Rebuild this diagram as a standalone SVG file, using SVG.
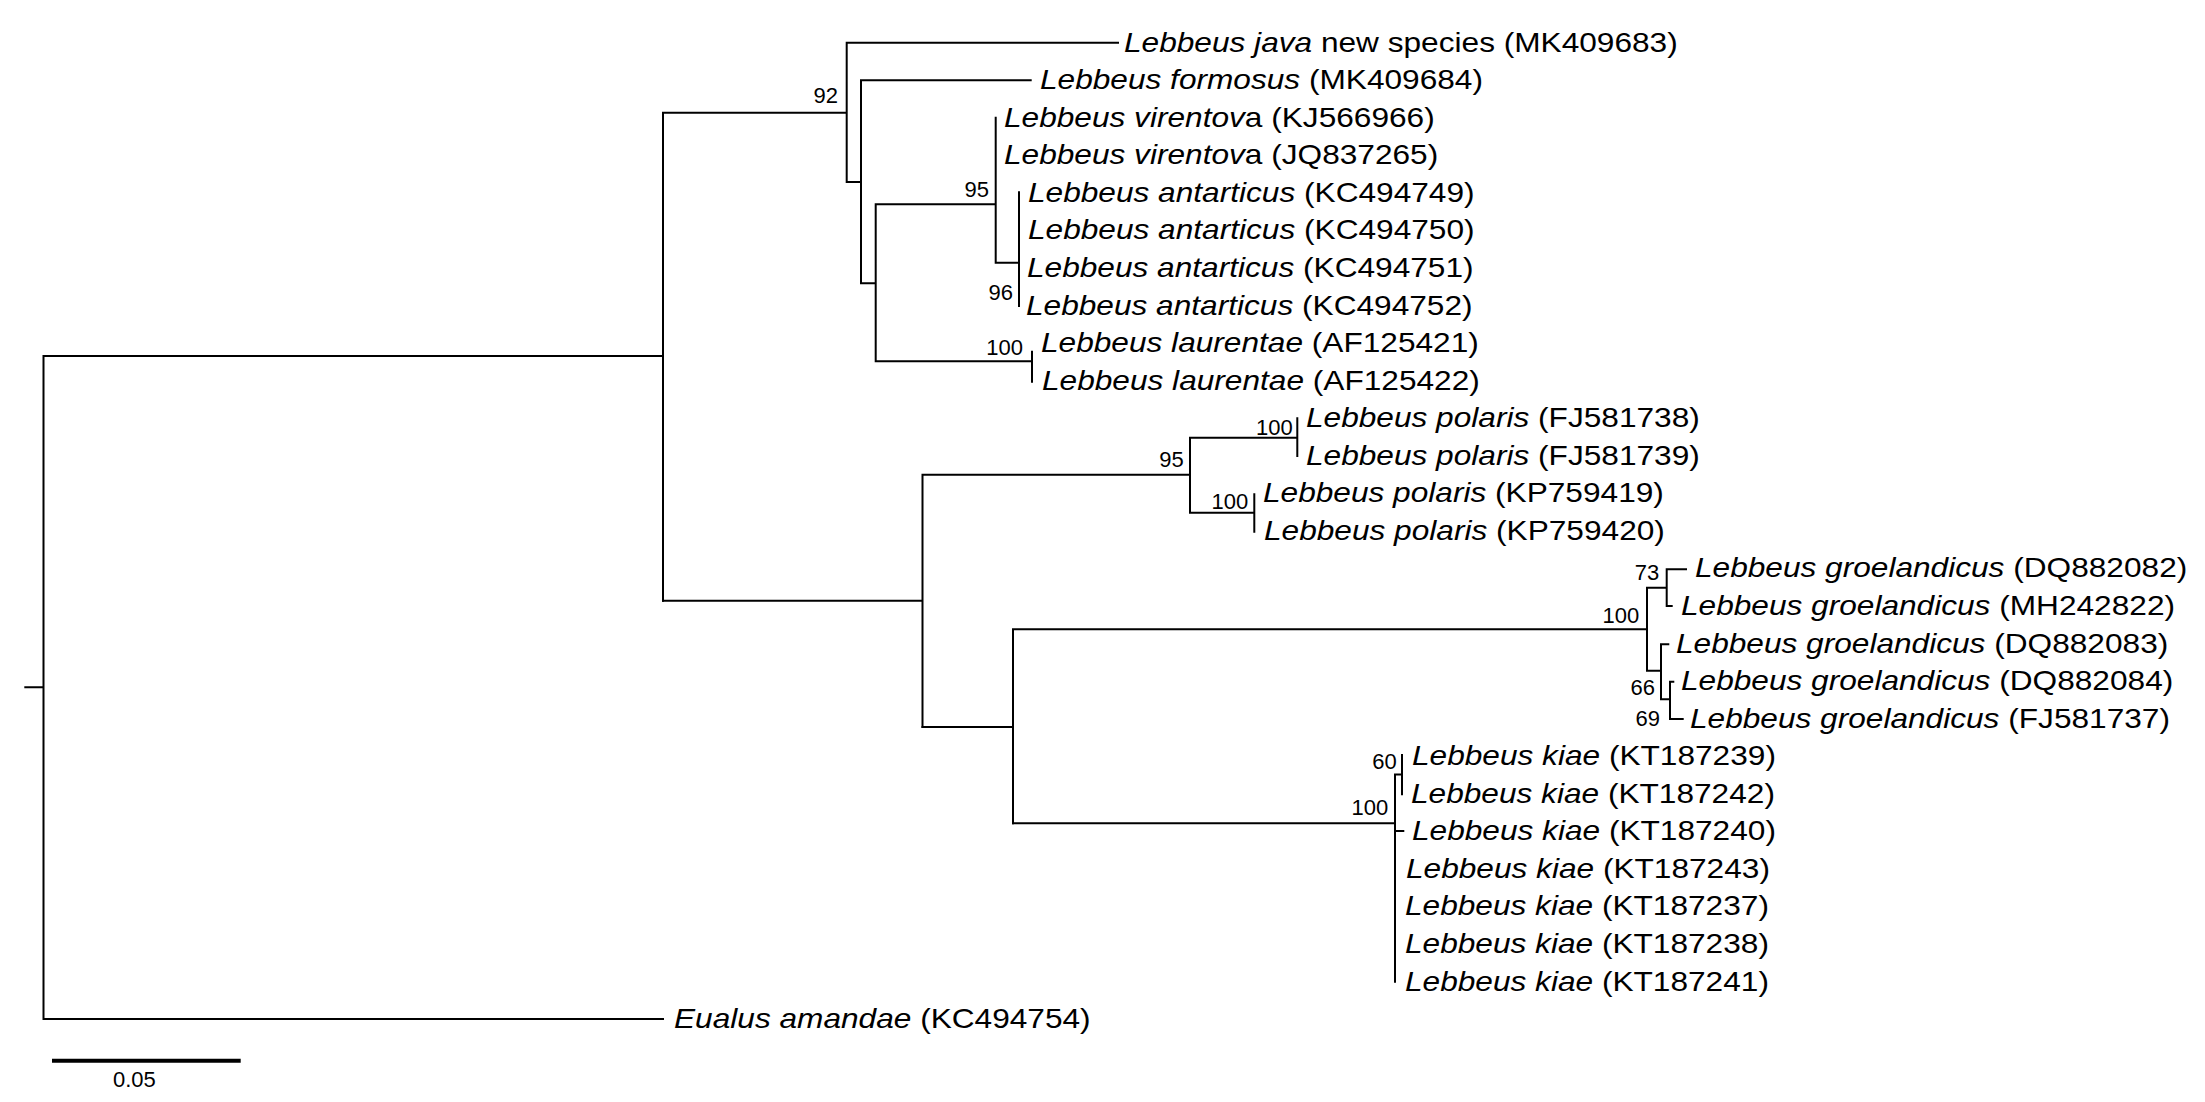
<svg xmlns="http://www.w3.org/2000/svg" width="2205" height="1102" viewBox="0 0 2205 1102">
<style>
.br{fill:none;stroke:#000;stroke-width:2;stroke-linecap:square}
.leaf{font-family:"Liberation Sans",Arial,sans-serif;font-size:28px;fill:#000}
.it{font-style:italic}
.bs{font-family:"Liberation Sans",Arial,sans-serif;font-size:22px;fill:#000;text-anchor:end}
</style>
<rect width="2205" height="1102" fill="#fff"/>
<g id="connectors">
<path class="br" d="M25.3 687.3H43.5M43.5 356V1019M43.5 356H663M43.5 1019H663"/>
<path class="br" d="M663 112.7V600.7M663 112.7H846.7M846.7 42.7V182M846.7 42.7H1118M846.7 182H861M861 80.25V283.3M861 80.25H1030.7M861 283.3H875.7M875.7 204.3V361.3M875.7 204.3H995.7M995.7 117.7V262.7M995.7 262.7H1019M1019 192.3V306M875.7 361.3H1032M1032 351.7V381.7"/>
<path class="br" d="M663 600.7H922.5M922.5 474.7V727M922.5 474.7H1190M1190 437.7V512.7M1190 437.7H1297.3M1297.3 418.3V456M1190 512.7H1254.3M1254.3 494.3V531.7"/>
<path class="br" d="M922.5 727H1013M1013 629.3V823.3M1013 629.3H1647M1647 587.7V670.7M1647 587.7H1666.7M1666.7 569.3V606M1666.7 569.3H1686M1666.7 606H1671.7M1647 670.7H1661M1661 644.3V699.3M1661 644.3H1668.3M1661 699.3H1670M1670 681.7V719M1670 681.7H1673.3M1670 719H1682.7"/>
<path class="br" d="M1013 823.3H1395M1395 774.5V981.7M1395 774.5H1402M1402 755V794.3M1395 831H1403.3"/>
</g>
<g id="scale-bar">
<path d="M52 1060.7H240.7" stroke="#000" stroke-width="4"/>
<text class="bs" x="113" y="1086.7" style="text-anchor:start">0.05</text>
</g>
<g id="bootstrap">
<text class="bs" x="838" y="102.7">92</text>
<text class="bs" x="989" y="196.7">95</text>
<text class="bs" x="1013" y="300">96</text>
<text class="bs" x="1023" y="355">100</text>
<text class="bs" x="1183.7" y="466.7">95</text>
<text class="bs" x="1292.7" y="435">100</text>
<text class="bs" x="1248.3" y="509.3">100</text>
<text class="bs" x="1639.3" y="623.3">100</text>
<text class="bs" x="1659.3" y="580">73</text>
<text class="bs" x="1655" y="695">66</text>
<text class="bs" x="1660" y="725.7">69</text>
<text class="bs" x="1396.7" y="769.3">60</text>
<text class="bs" x="1388.3" y="815">100</text>
</g>
<g id="leaf-java"><text class="leaf" transform="translate(1124 51.7) scale(1.13 1)"><tspan class="it">Lebbeus java</tspan> new species (MK409683)</text></g>
<g id="leaf-formosus"><text class="leaf" transform="translate(1040 89.2) scale(1.13 1)"><tspan class="it">Lebbeus formosus</tspan> (MK409684)</text></g>
<g id="leaf-virentova-KJ566966"><text class="leaf" transform="translate(1004 126.8) scale(1.13 1)"><tspan class="it">Lebbeus virentov</tspan>a (KJ566966)</text></g>
<g id="leaf-virentova-JQ837265"><text class="leaf" transform="translate(1004 164.3) scale(1.13 1)"><tspan class="it">Lebbeus virentov</tspan>a (JQ837265)</text></g>
<g id="leaf-antarticus-KC494749"><text class="leaf" transform="translate(1028 201.9) scale(1.13 1)"><tspan class="it">Lebbeus antarticus</tspan> (KC494749)</text></g>
<g id="leaf-antarticus-KC494750"><text class="leaf" transform="translate(1028 239.4) scale(1.13 1)"><tspan class="it">Lebbeus antarticus</tspan> (KC494750)</text></g>
<g id="leaf-antarticus-KC494751"><text class="leaf" transform="translate(1027 277) scale(1.13 1)"><tspan class="it">Lebbeus antarticus</tspan> (KC494751)</text></g>
<g id="leaf-antarticus-KC494752"><text class="leaf" transform="translate(1026 314.5) scale(1.13 1)"><tspan class="it">Lebbeus antarticus</tspan> (KC494752)</text></g>
<g id="leaf-laurentae-AF125421"><text class="leaf" transform="translate(1041 352.1) scale(1.13 1)"><tspan class="it">Lebbeus laurentae</tspan> (AF125421)</text></g>
<g id="leaf-laurentae-AF125422"><text class="leaf" transform="translate(1042 389.6) scale(1.13 1)"><tspan class="it">Lebbeus laurentae</tspan> (AF125422)</text></g>
<g id="leaf-polaris-FJ581738"><text class="leaf" transform="translate(1306 427.2) scale(1.13 1)"><tspan class="it">Lebbeus polaris</tspan> (FJ581738)</text></g>
<g id="leaf-polaris-FJ581739"><text class="leaf" transform="translate(1306 464.7) scale(1.13 1)"><tspan class="it">Lebbeus polaris</tspan> (FJ581739)</text></g>
<g id="leaf-polaris-KP759419"><text class="leaf" transform="translate(1263 502.3) scale(1.13 1)"><tspan class="it">Lebbeus polaris</tspan> (KP759419)</text></g>
<g id="leaf-polaris-KP759420"><text class="leaf" transform="translate(1264 539.8) scale(1.13 1)"><tspan class="it">Lebbeus polaris</tspan> (KP759420)</text></g>
<g id="leaf-groelandicus-DQ882082"><text class="leaf" transform="translate(1695 577.4) scale(1.13 1)"><tspan class="it">Lebbeus groelandicus</tspan> (DQ882082)</text></g>
<g id="leaf-groelandicus-MH242822"><text class="leaf" transform="translate(1681 614.9) scale(1.13 1)"><tspan class="it">Lebbeus groelandicus</tspan> (MH242822)</text></g>
<g id="leaf-groelandicus-DQ882083"><text class="leaf" transform="translate(1676 652.5) scale(1.13 1)"><tspan class="it">Lebbeus groelandicus</tspan> (DQ882083)</text></g>
<g id="leaf-groelandicus-DQ882084"><text class="leaf" transform="translate(1681 690) scale(1.13 1)"><tspan class="it">Lebbeus groelandicus</tspan> (DQ882084)</text></g>
<g id="leaf-groelandicus-FJ581737"><text class="leaf" transform="translate(1690 727.6) scale(1.13 1)"><tspan class="it">Lebbeus groelandicus</tspan> (FJ581737)</text></g>
<g id="leaf-kiae-KT187239"><text class="leaf" transform="translate(1412 765.2) scale(1.13 1)"><tspan class="it">Lebbeus kiae</tspan> (KT187239)</text></g>
<g id="leaf-kiae-KT187242"><text class="leaf" transform="translate(1411 802.7) scale(1.13 1)"><tspan class="it">Lebbeus kiae</tspan> (KT187242)</text></g>
<g id="leaf-kiae-KT187240"><text class="leaf" transform="translate(1412 840.3) scale(1.13 1)"><tspan class="it">Lebbeus kiae</tspan> (KT187240)</text></g>
<g id="leaf-kiae-KT187243"><text class="leaf" transform="translate(1406 877.8) scale(1.13 1)"><tspan class="it">Lebbeus kiae</tspan> (KT187243)</text></g>
<g id="leaf-kiae-KT187237"><text class="leaf" transform="translate(1405 915.4) scale(1.13 1)"><tspan class="it">Lebbeus kiae</tspan> (KT187237)</text></g>
<g id="leaf-kiae-KT187238"><text class="leaf" transform="translate(1405 952.9) scale(1.13 1)"><tspan class="it">Lebbeus kiae</tspan> (KT187238)</text></g>
<g id="leaf-kiae-KT187241"><text class="leaf" transform="translate(1405 990.5) scale(1.13 1)"><tspan class="it">Lebbeus kiae</tspan> (KT187241)</text></g>
<g id="leaf-eualus-amandae"><text class="leaf" transform="translate(674 1028) scale(1.13 1)"><tspan class="it">Eualus amandae</tspan> (KC494754)</text></g>
</svg>
